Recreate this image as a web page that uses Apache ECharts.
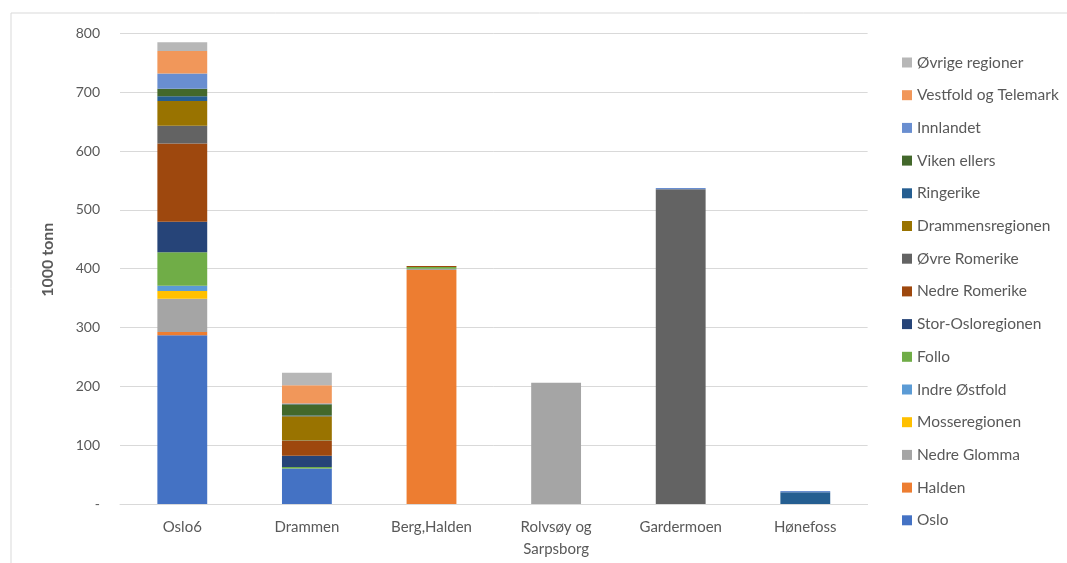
<!DOCTYPE html>
<html>
<head>
<meta charset="utf-8">
<script src="https://cdn.jsdelivr.net/npm/echarts@6/dist/echarts.min.js"></script>
<style>html,body{margin:0;padding:0;background:#fff}#c{width:1067px;height:563px}</style>
</head>
<body>
<div id="c"></div>
<script>
const categories = ['Oslo6', 'Drammen', 'Berg,Halden', 'Rolvsøy og\nSarpsborg', 'Gardermoen', 'Hønefoss'];
const yTickLabels = ['-', '100', '200', '300', '400', '500', '600', '700', '800'];

const oslo            = [287, 60.5, 0, 0, 0, 0];
const halden          = [5.5, 0, 398, 0, 0, 0];
const nedreGlomma     = [56.5, 0, 2, 206, 0, 0];
const mosseregionen   = [13, 0, 0, 0, 0, 0];
const indreOstfold    = [9, 0, 0, 0, 0, 0];
const follo           = [57, 2.5, 3, 0, 0, 0];
const storOslo        = [52, 19, 0, 0, 0, 0];
const nedreRomerike   = [133, 25, 1.5, 0, 0, 0];
const ovreRomerike    = [30, 1, 0, 0, 535, 0];
const drammensreg     = [42, 41, 0, 0, 0, 0];
const ringerike       = [8, 1.5, 0, 0, 0, 20];
const vikenEllers     = [13, 19, 0, 0, 0, 0];
const innlandet       = [26, 1.5, 0, 0, 2, 2];
const vestfoldTelemark= [38, 31, 0, 0, 0, 0];
const ovrigeRegioner  = [15, 21, 0, 0, 0, 0];

const seriesNames = ['Oslo', 'Halden', 'Nedre Glomma', 'Mosseregionen', 'Indre Østfold', 'Follo',
  'Stor-Osloregionen', 'Nedre Romerike', 'Øvre Romerike', 'Drammensregionen', 'Ringerike',
  'Viken ellers', 'Innlandet', 'Vestfold og Telemark', 'Øvrige regioner'];
const seriesData = [oslo, halden, nedreGlomma, mosseregionen, indreOstfold, follo, storOslo,
  nedreRomerike, ovreRomerike, drammensreg, ringerike, vikenEllers, innlandet, vestfoldTelemark, ovrigeRegioner];
const colors = ['#4472C4', '#ED7D31', '#A5A5A5', '#FFC000', '#5B9BD5', '#70AD47', '#264478',
  '#9E480E', '#636363', '#997300', '#255E91', '#43682B', '#698ED0', '#F1975A', '#B7B7B7'];

const FONT = 'Lato';
const chart = echarts.init(document.getElementById('c'), null, {renderer: 'canvas'});
chart.setOption({
  animation: false,
  backgroundColor: '#fff',
  color: colors,
  textStyle: {fontFamily: FONT},
  graphic: [{
    type: 'rect', silent: true, z: -10,
    shape: {x: 11, y: 13, width: 1100, height: 600},
    style: {fill: 'none', stroke: '#D9D9D9', lineWidth: 1}
  }],
  grid: {left: 120, right: 199.4, top: 33.4, bottom: 59, containLabel: false},
  legend: {
    orient: 'vertical', left: 897, top: 49.5,
    icon: 'rect', itemWidth: 10, itemHeight: 10, itemGap: 16.7,
    data: seriesNames.slice().reverse(),
    textStyle: {color: '#595959', fontSize: 15.5, fontFamily: FONT, lineHeight: 16}
  },
  xAxis: {
    type: 'category', data: categories,
    axisLine: {show: true, lineStyle: {color: '#D9D9D9', width: 1}},
    axisTick: {show: false},
    axisLabel: {color: '#595959', fontSize: 15, fontFamily: FONT, margin: 12, lineHeight: 22}
  },
  yAxis: {
    type: 'value', min: 0, max: 800, interval: 100,
    name: '1000 tonn', nameLocation: 'middle', nameGap: 64, nameRotate: 90,
    nameTextStyle: {color: '#595959', fontSize: 16, fontWeight: 'bold', fontFamily: FONT,
      padding: [0, 0, 0, 18]},
    axisLine: {show: false}, axisTick: {show: false},
    splitLine: {lineStyle: {color: '#D9D9D9', width: 1}},
    axisLabel: {color: '#595959', fontSize: 14, fontFamily: FONT, margin: 20,
      formatter: (v) => yTickLabels[Math.round(v / 100)]}
  },
  series: seriesNames.map((n, i) => ({
    name: n, type: 'bar', stack: 'total', barWidth: '40%',
    data: seriesData[i]
  }))
});
</script>
</body>
</html>
